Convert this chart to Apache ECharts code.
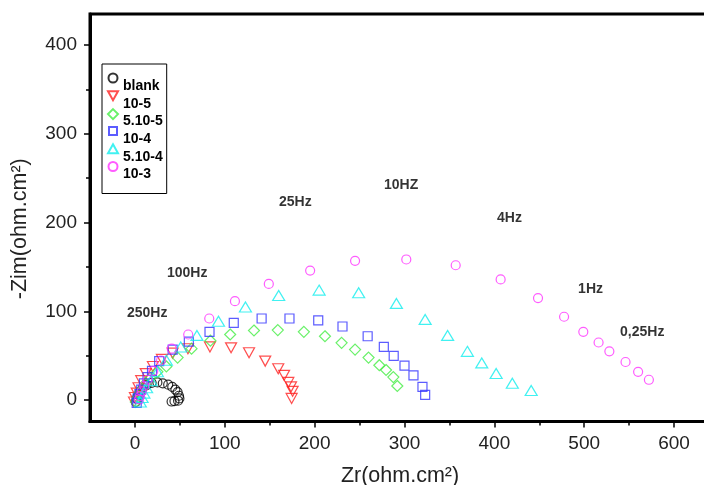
<!DOCTYPE html>
<html>
<head>
<meta charset="utf-8">
<script src="https://cdn.jsdelivr.net/npm/echarts@6/dist/echarts.min.js"></script>
<style>
  html, body { margin: 0; padding: 0; background: #fff; }
  #chart { width: 704px; height: 485px; }
</style>
</head>
<body>
<div id="chart"></div>
<script>
// Nyquist data: [Zr, -Zim] in ohm.cm², high to low frequency
const blank = [[1,-2],[2,2],[4,6],[6,10],[9,14],[13,17],[18.6,19.6],[25,20],[31,19],[37,17.5],[41.5,15],[45,12],[47.5,9],[49,5],[49.5,2],[48,-0.5],[44,-1],[40.8,-1.5]];
const c10_5 = [[-1,-2],[0,3],[2,8],[4,14],[7,22],[12,30],[20,38],[30,46],[42,53],[59,58],[83.5,60],[107,59],[127,53.4],[145,44],[159.5,35.4],[166,28],[170.7,20],[173.7,15],[175.5,10],[174.4,2]];
const c5_10_5 = [[1,-2],[3,3],[5,8],[8,13],[12,19],[17,25],[25,32],[35,38],[47.5,48],[63,58],[84,67],[106,74],[132.5,78.5],[159,79],[188,77],[211.5,72],[230,64.6],[245,57],[260,48],[272,39.4],[279.5,34],[287.6,26],[292,16]];
const c10_4 = [[2,-3],[3,2],[5,7],[7,12],[10,19],[14,26],[19,33],[27,44],[42,57],[60,66],[83,77],[110,87],[141,92],[172,92],[204,90],[231,83],[259,72],[277,60],[288,50],[300,39],[310,28],[320,15],[323,6]];
const c5_10_4 = [[6,-2],[8,3],[10,8],[13,14],[18,22],[25,32],[35,45],[51,60],[69,73],[93,89],[123,105],[160,118],[205,124],[249,121],[291,109],[323,91],[348,73],[370,55],[386,42],[402,30],[420,19],[441,11]];
const c10_3 = [[4.5,1],[5.6,4.5],[7.5,10],[10.4,16],[14,23],[20.4,33],[29,44.7],[41,58],[59.3,74],[82.7,92],[111.3,111.5],[149,131],[195,146],[245,157],[302,158.5],[357,152],[407,136],[448.6,115],[477.6,94],[499,77],[516,65],[528,55],[546,43],[560,32],[572,23]];

const seriesNames = ['blank', '10-5', '5.10-5', '10-4', '5.10-4', '10-3'];

// Frequency annotations placed in data coordinates (left edge, vertical middle)
const freqLabels = ['250Hz', '100Hz', '25Hz', '10HZ', '4Hz', '1Hz', '0,25Hz'];
const freqPos = [[-8.9, 97.5], [35.6, 143], [160.3, 223], [277.2, 242], [403, 205], [493.2, 125], [539.9, 76.5]];

const xTicks = [0, 100, 200, 300, 400, 500, 600];
const xMinor = [50, 150, 250, 350, 450, 550, 650];
const yTicks = [0, 100, 200, 300, 400];
const yMinor = [50, 150, 250, 350];

const FONT = 'Liberation Sans, Arial, sans-serif';

// Marker styles per series
const styles = [
  { symbol: 'circle',   size: 9,        rotate: 0,   color: '#000000' },
  { symbol: 'triangle', size: [11, 10], rotate: 180, color: '#ff2222' },
  { symbol: 'diamond',  size: [11, 11], rotate: 0,   color: '#44ee44' },
  { symbol: 'rect',     size: [9, 9],   rotate: 0,   color: '#3333ff' },
  { symbol: 'triangle', size: [12, 10], rotate: 0,   color: '#11eeee' },
  { symbol: 'circle',   size: 9,        rotate: 0,   color: '#ff33ff' }
];

// Legend icons: the glyph sits at the top of a 10x25 box so it rides above the text line
const PAD = 'M0,25M10,25';
const legendIcons = [
  'path://M9.5,4.5A4.5,4.5,0,1,1,0.5,4.5A4.5,4.5,0,1,1,9.5,4.5Z' + PAD,
  'path://M0,0L10,0L5,9Z' + PAD,
  'path://M5,0L10,5L5,10L0,5Z' + PAD,
  'path://M1,0.5L9,0.5L9,8.5L1,8.5Z' + PAD,
  'path://M5,0L10,9L0,9Z' + PAD,
  'path://M9.5,4.5A4.5,4.5,0,1,1,0.5,4.5A4.5,4.5,0,1,1,9.5,4.5Z' + PAD
];

const datasets = [blank, c10_5, c5_10_5, c10_4, c5_10_4, c10_3];

const series = datasets.map((d, i) => ({
  name: seriesNames[i],
  type: 'scatter',
  data: d,
  symbol: styles[i].symbol,
  symbolSize: styles[i].size,
  symbolRotate: styles[i].rotate,
  itemStyle: { color: 'rgba(255,255,255,0)', borderColor: styles[i].color, borderWidth: 1.2 },
  emphasis: { disabled: true },
  z: 3
}));

series.push({
  type: 'scatter',
  data: freqPos.map((p, i) => ({ value: p, name: freqLabels[i] })),
  symbolSize: 0,
  silent: true,
  label: {
    show: true,
    position: [0, 0],
    align: 'left',
    verticalAlign: 'middle',
    formatter: p => p.name,
    color: '#000',
    fontFamily: FONT,
    fontWeight: 'bold',
    fontSize: 14
  },
  z: 4
});

const chart = echarts.init(document.getElementById('chart'), null, { renderer: 'canvas' });

const xBase = { type: 'value', min: -50, max: 640, splitLine: { show: false } };
const yBase = { type: 'value', min: -24, max: 435, splitLine: { show: false } };

chart.setOption({
  animation: false,
  backgroundColor: '#ffffff',
  grid: {
    left: 90, top: 14, bottom: 63.5, right: -6,
    outerBoundsMode: 'none',
    containLabel: false,
    show: true, borderColor: '#000', borderWidth: 3, backgroundColor: 'transparent'
  },
  legend: {
    orient: 'vertical',
    left: 102, top: 64,
    backgroundColor: '#fff',
    borderColor: '#000', borderWidth: 1,
    padding: [8.5, 4, 5.5, 5],
    itemWidth: 10, itemHeight: 25, itemGap: -9.2,
    symbolRotate: 0,
    textStyle: { fontFamily: FONT, fontWeight: 'bold', fontSize: 14, color: '#000' },
    data: seriesNames.map((n, i) => ({ name: n, icon: legendIcons[i] }))
  },
  xAxis: [
    Object.assign({}, xBase, {
      position: 'bottom',
      name: 'Zr(ohm.cm²)', nameLocation: 'middle', nameGap: 44, nameMoveOverlap: false,
      nameTextStyle: { fontFamily: FONT, fontSize: 21.5, color: '#222' },
      axisLine: { show: true, onZero: false, lineStyle: { color: '#000', width: 3 } },
      axisTick: { show: true, customValues: xTicks, length: 6, lineStyle: { color: '#000', width: 1.5 } },
      axisLabel: { customValues: xTicks, fontFamily: FONT, fontSize: 19, color: '#222', margin: 13 }
    }),
    Object.assign({}, xBase, {
      position: 'bottom',
      axisLine: { show: false, onZero: false },
      axisTick: { show: true, customValues: xMinor, length: 4, lineStyle: { color: '#000', width: 1.5 } },
      axisLabel: { show: false }
    })
  ],
  yAxis: [
    Object.assign({}, yBase, {
      position: 'left',
      name: '-Zim(ohm.cm²)', nameLocation: 'middle', nameGap: 59, nameMoveOverlap: false,
      nameTextStyle: { fontFamily: FONT, fontSize: 21.5, color: '#222', padding: [0, 22, 0, 0] },
      axisLine: { show: true, onZero: false, lineStyle: { color: '#000', width: 3 } },
      axisTick: { show: true, customValues: yTicks, length: 6, lineStyle: { color: '#000', width: 1.5 } },
      axisLabel: { customValues: yTicks, fontFamily: FONT, fontSize: 19, color: '#222', margin: 13 }
    }),
    Object.assign({}, yBase, {
      position: 'left',
      axisLine: { show: false, onZero: false },
      axisTick: { show: true, customValues: yMinor, length: 4, lineStyle: { color: '#000', width: 1.5 } },
      axisLabel: { show: false }
    })
  ],
  series: series
});
</script>
</body>
</html>
